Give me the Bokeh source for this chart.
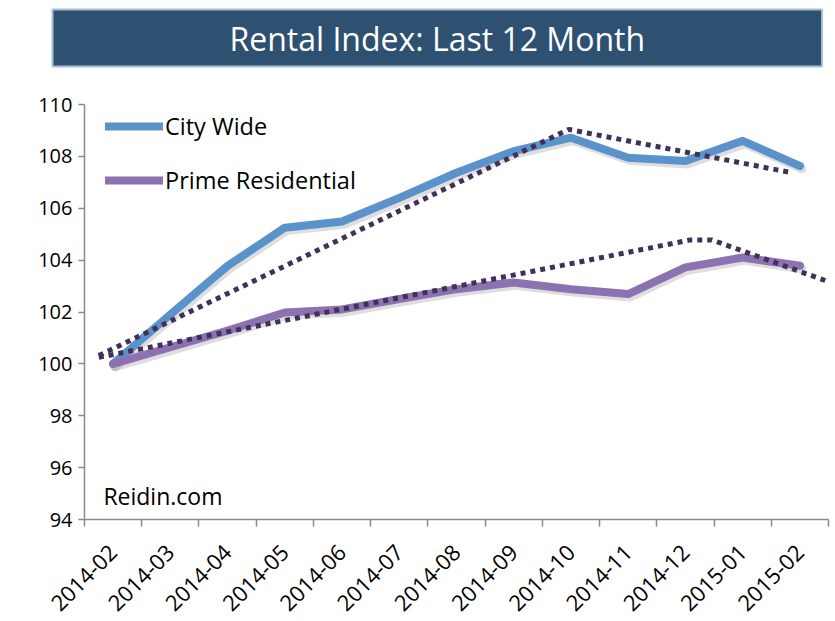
from math import pi
from bokeh.plotting import figure
from bokeh.models import Range1d, FixedTicker, Label, Legend, LegendItem, Title
from bokeh.embed import file_html
from bokeh.resources import INLINE

# ---- data ----
months = ["2014-02", "2014-03", "2014-04", "2014-05", "2014-06", "2014-07", "2014-08",
          "2014-09", "2014-10", "2014-11", "2014-12", "2015-01", "2015-02"]
city_wide = [100.0, 101.9, 103.78, 105.25, 105.49, 106.4, 107.37,
             108.2, 108.72, 107.95, 107.82, 108.6, 107.63]
prime_residential = [100.0, 100.64, 101.28, 101.98, 102.1, 102.5, 102.88,
                     103.14, 102.88, 102.69, 103.72, 104.1, 103.78]
# dotted trend lines (position in category units, value)
city_trend_pos = [0.25, 8.46, 12.36]
city_trend_val = [100.32, 109.04, 107.37]
prime_trend_pos = [0.25, 10.59, 10.96, 12.96]
prime_trend_val = [100.25, 104.78, 104.78, 103.2]
y_ticks = [94, 96, 98, 100, 102, 104, 106, 108, 110]
title_text = "Rental Index: Last 12 Month"
source_text = "Reidin.com"

FONT = "Open Sans"
CITY_COLOR = "#5A92CB"
PRIME_COLOR = "#8C72B0"
TREND_COLOR = "#3F3158"

pos = [i + 0.5 for i in range(len(months))]
boundaries = list(range(len(months) + 1))

p = figure(width=835, height=621, output_backend="svg", toolbar_location=None,
           x_range=Range1d(0, len(months)), y_range=Range1d(94, 110),
           min_border_left=84, min_border_right=7, min_border_top=104, min_border_bottom=101)
p.grid.visible = False
p.outline_line_color = None
p.background_fill_color = "white"
p.border_fill_color = "white"

# ---- title banner (blank spacer nearest the frame, then the banner) ----
p.add_layout(Title(text=" ", text_color="white", text_font=FONT,
                   text_font_size="26.5px", standoff=0), "above")
p.add_layout(Title(text=title_text, align="left", offset=-32, standoff=0,
                   text_color="white", text_font=FONT, text_font_size="32px",
                   text_font_style="normal",
                   background_fill_color="#2E5071", background_fill_alpha=1.0,
                   border_line_color="#A9BED8", border_line_width=2,
                   padding=dict(left=177, right=177, top=7, bottom=7)), "above")

# shadows
sx = 0.035
sy = 0.11
p.line([x + sx for x in pos], [v - sy for v in city_wide], line_width=9,
       line_color="black", line_alpha=0.13, line_join="round", line_cap="round")
p.line([x + sx for x in pos], [v - sy for v in prime_residential], line_width=9,
       line_color="black", line_alpha=0.13, line_join="round", line_cap="round")

r_city = p.line(pos, city_wide, line_width=8, line_color=CITY_COLOR,
                line_join="round", line_cap="round")
r_prime = p.line(pos, prime_residential, line_width=8, line_color=PRIME_COLOR,
                 line_join="round", line_cap="round")

p.line(city_trend_pos, city_trend_val, line_width=5, line_color=TREND_COLOR,
       line_dash="5 5", line_cap="butt")
p.line(prime_trend_pos, prime_trend_val, line_width=5, line_color=TREND_COLOR,
       line_dash="5 5", line_cap="butt")

# axes
AX = "#8A8A8A"
xa = p.xaxis[0]
xa.ticker = FixedTicker(ticks=pos, minor_ticks=boundaries)
xa.major_label_overrides = {x: m for x, m in zip(pos, months)}
xa.major_label_orientation = pi / 4
xa.major_tick_out = 0
xa.major_tick_in = 0
xa.minor_tick_out = 7
xa.minor_tick_in = 0
xa.minor_tick_line_color = AX
xa.minor_tick_line_width = 1.5
xa.axis_line_color = AX
xa.axis_line_width = 1.5
xa.major_label_text_font = FONT
xa.major_label_text_font_size = "22px"
xa.major_label_text_color = "black"
xa.major_label_standoff = 22

ya = p.yaxis[0]
ya.ticker = FixedTicker(ticks=y_ticks)
ya.major_tick_out = 6
ya.major_tick_in = 0
ya.minor_tick_out = 0
ya.minor_tick_in = 0
ya.major_tick_line_color = AX
ya.major_tick_line_width = 1.5
ya.axis_line_color = AX
ya.axis_line_width = 1.5
ya.major_label_text_font = FONT
ya.major_label_text_font_size = "20px"
ya.major_label_text_color = "black"
ya.major_label_standoff = 6

legend = Legend(items=[LegendItem(label="City Wide", renderers=[r_city]),
                       LegendItem(label="Prime Residential", renderers=[r_prime])],
                location=(21, 323), orientation="vertical",
                label_text_font=FONT, label_text_font_size="23.5px", label_text_color="black",
                glyph_width=58, glyph_height=26, label_standoff=2, spacing=22,
                padding=0, margin=0, border_line_alpha=0, background_fill_alpha=0)
p.add_layout(legend)

p.add_layout(Label(x=0.33, y=94.9, text=source_text, text_font=FONT,
                   text_font_size="23px", text_color="black",
                   text_baseline="alphabetic", text_align="left"))

open("out.html", "w").write(file_html(p, INLINE))
